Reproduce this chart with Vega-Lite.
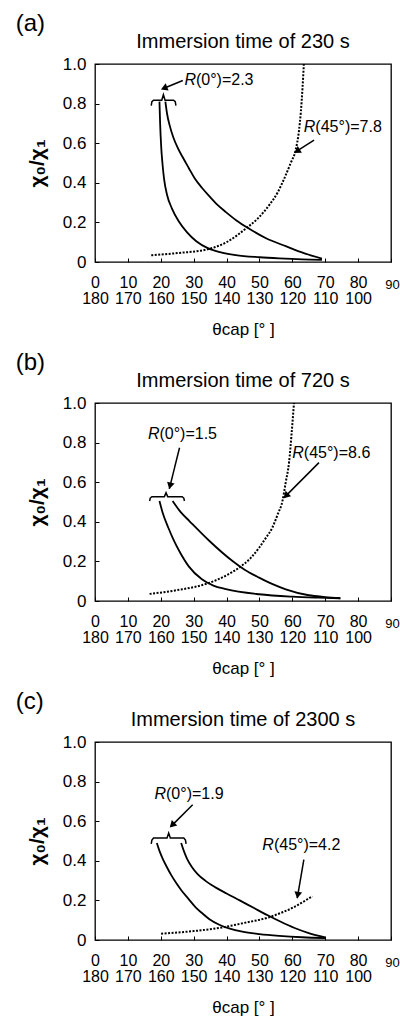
{
  "$schema": "https://vega.github.io/schema/vega-lite/v6.json",
  "padding": {"left": 15, "top": 12, "right": 0, "bottom": 0},
  "spacing": 13,
  "config": {
    "font": "Liberation Sans",
    "view": {"stroke": "#000", "strokeWidth": 1.3},
    "axis": {"grid": false, "domain": false, "tickColor": "#000", "tickSize": -4, "tickWidth": 1, "labelColor": "#000", "titleColor": "#000", "labelFont": "Liberation Sans", "titleFont": "Liberation Sans"},
    "title": {"color": "#000", "font": "Liberation Sans", "fontWeight": "normal"},
    "text": {"font": "Liberation Sans"}
  },
  "datasets": {
    "curves": [
      {"p": "a", "c": "s1", "x": 19.6, "y": 0.81}, {"p": "a", "c": "s1", "x": 19.8, "y": 0.70}, {"p": "a", "c": "s1", "x": 20.1, "y": 0.59}, {"p": "a", "c": "s1", "x": 20.5, "y": 0.50}, {"p": "a", "c": "s1", "x": 21.0, "y": 0.42}, {"p": "a", "c": "s1", "x": 21.9, "y": 0.34}, {"p": "a", "c": "s1", "x": 23.4, "y": 0.27}, {"p": "a", "c": "s1", "x": 25.5, "y": 0.205}, {"p": "a", "c": "s1", "x": 28, "y": 0.15}, {"p": "a", "c": "s1", "x": 30.8, "y": 0.105}, {"p": "a", "c": "s1", "x": 34.3, "y": 0.07}, {"p": "a", "c": "s1", "x": 38, "y": 0.05}, {"p": "a", "c": "s1", "x": 42.8, "y": 0.035}, {"p": "a", "c": "s1", "x": 50, "y": 0.024}, {"p": "a", "c": "s1", "x": 56, "y": 0.018}, {"p": "a", "c": "s1", "x": 63, "y": 0.013}, {"p": "a", "c": "s1", "x": 69, "y": 0.011},
      {"p": "a", "c": "s2", "x": 21.4, "y": 0.81}, {"p": "a", "c": "s2", "x": 21.9, "y": 0.75}, {"p": "a", "c": "s2", "x": 22.7, "y": 0.69}, {"p": "a", "c": "s2", "x": 23.8, "y": 0.63}, {"p": "a", "c": "s2", "x": 25.2, "y": 0.575}, {"p": "a", "c": "s2", "x": 26.8, "y": 0.525}, {"p": "a", "c": "s2", "x": 28.5, "y": 0.475}, {"p": "a", "c": "s2", "x": 30.4, "y": 0.42}, {"p": "a", "c": "s2", "x": 32.5, "y": 0.375}, {"p": "a", "c": "s2", "x": 34.6, "y": 0.335}, {"p": "a", "c": "s2", "x": 37, "y": 0.292}, {"p": "a", "c": "s2", "x": 39.8, "y": 0.252}, {"p": "a", "c": "s2", "x": 43, "y": 0.21}, {"p": "a", "c": "s2", "x": 46.9, "y": 0.168}, {"p": "a", "c": "s2", "x": 52, "y": 0.12}, {"p": "a", "c": "s2", "x": 58, "y": 0.08}, {"p": "a", "c": "s2", "x": 63.5, "y": 0.045}, {"p": "a", "c": "s2", "x": 69, "y": 0.017},
      {"p": "a", "c": "d", "x": 17.1, "y": 0.034}, {"p": "a", "c": "d", "x": 25, "y": 0.045}, {"p": "a", "c": "d", "x": 34.2, "y": 0.064}, {"p": "a", "c": "d", "x": 40, "y": 0.10}, {"p": "a", "c": "d", "x": 45.8, "y": 0.168}, {"p": "a", "c": "d", "x": 49.5, "y": 0.22}, {"p": "a", "c": "d", "x": 52.9, "y": 0.286}, {"p": "a", "c": "d", "x": 55.5, "y": 0.35}, {"p": "a", "c": "d", "x": 57.5, "y": 0.42}, {"p": "a", "c": "d", "x": 59.5, "y": 0.50}, {"p": "a", "c": "d", "x": 61, "y": 0.565}, {"p": "a", "c": "d", "x": 62, "y": 0.66}, {"p": "a", "c": "d", "x": 62.6, "y": 0.76}, {"p": "a", "c": "d", "x": 63.1, "y": 0.88}, {"p": "a", "c": "d", "x": 63.5, "y": 1.0},
      {"p": "b", "c": "s1", "x": 19.6, "y": 0.505}, {"p": "b", "c": "s1", "x": 20.5, "y": 0.45}, {"p": "b", "c": "s1", "x": 22.3, "y": 0.37}, {"p": "b", "c": "s1", "x": 24.0, "y": 0.305}, {"p": "b", "c": "s1", "x": 25.7, "y": 0.25}, {"p": "b", "c": "s1", "x": 28.5, "y": 0.175}, {"p": "b", "c": "s1", "x": 32.5, "y": 0.11}, {"p": "b", "c": "s1", "x": 36, "y": 0.078}, {"p": "b", "c": "s1", "x": 39.8, "y": 0.06}, {"p": "b", "c": "s1", "x": 49.9, "y": 0.034}, {"p": "b", "c": "s1", "x": 60, "y": 0.022}, {"p": "b", "c": "s1", "x": 68, "y": 0.017}, {"p": "b", "c": "s1", "x": 74.6, "y": 0.014},
      {"p": "b", "c": "s2", "x": 23.6, "y": 0.505}, {"p": "b", "c": "s2", "x": 26, "y": 0.45}, {"p": "b", "c": "s2", "x": 28.7, "y": 0.404}, {"p": "b", "c": "s2", "x": 34.8, "y": 0.303}, {"p": "b", "c": "s2", "x": 41.8, "y": 0.202}, {"p": "b", "c": "s2", "x": 45.5, "y": 0.158}, {"p": "b", "c": "s2", "x": 49.9, "y": 0.118}, {"p": "b", "c": "s2", "x": 54, "y": 0.085}, {"p": "b", "c": "s2", "x": 58, "y": 0.059}, {"p": "b", "c": "s2", "x": 65, "y": 0.029}, {"p": "b", "c": "s2", "x": 70, "y": 0.02}, {"p": "b", "c": "s2", "x": 74.6, "y": 0.014},
      {"p": "b", "c": "d", "x": 16.6, "y": 0.036}, {"p": "b", "c": "d", "x": 25, "y": 0.055}, {"p": "b", "c": "d", "x": 34.8, "y": 0.092}, {"p": "b", "c": "d", "x": 40, "y": 0.13}, {"p": "b", "c": "d", "x": 43.8, "y": 0.168}, {"p": "b", "c": "d", "x": 47.5, "y": 0.22}, {"p": "b", "c": "d", "x": 49.9, "y": 0.269}, {"p": "b", "c": "d", "x": 52, "y": 0.32}, {"p": "b", "c": "d", "x": 53.9, "y": 0.37}, {"p": "b", "c": "d", "x": 55.6, "y": 0.44}, {"p": "b", "c": "d", "x": 57, "y": 0.505}, {"p": "b", "c": "d", "x": 58, "y": 0.60}, {"p": "b", "c": "d", "x": 59, "y": 0.70}, {"p": "b", "c": "d", "x": 59.8, "y": 0.85}, {"p": "b", "c": "d", "x": 60.5, "y": 1.0},
      {"p": "c", "c": "s1", "x": 18.8, "y": 0.49}, {"p": "c", "c": "s1", "x": 19.6, "y": 0.45}, {"p": "c", "c": "s1", "x": 20.6, "y": 0.41}, {"p": "c", "c": "s1", "x": 21.8, "y": 0.37}, {"p": "c", "c": "s1", "x": 23.1, "y": 0.33}, {"p": "c", "c": "s1", "x": 24.6, "y": 0.29}, {"p": "c", "c": "s1", "x": 26.3, "y": 0.25}, {"p": "c", "c": "s1", "x": 28.3, "y": 0.21}, {"p": "c", "c": "s1", "x": 30.6, "y": 0.165}, {"p": "c", "c": "s1", "x": 32.6, "y": 0.135}, {"p": "c", "c": "s1", "x": 34.8, "y": 0.105}, {"p": "c", "c": "s1", "x": 37.8, "y": 0.077}, {"p": "c", "c": "s1", "x": 41, "y": 0.057}, {"p": "c", "c": "s1", "x": 44.8, "y": 0.042}, {"p": "c", "c": "s1", "x": 50, "y": 0.03}, {"p": "c", "c": "s1", "x": 56, "y": 0.021}, {"p": "c", "c": "s1", "x": 63, "y": 0.014}, {"p": "c", "c": "s1", "x": 70, "y": 0.01},
      {"p": "c", "c": "s2", "x": 26.2, "y": 0.49}, {"p": "c", "c": "s2", "x": 27.0, "y": 0.45}, {"p": "c", "c": "s2", "x": 28.0, "y": 0.41}, {"p": "c", "c": "s2", "x": 29.4, "y": 0.37}, {"p": "c", "c": "s2", "x": 31.2, "y": 0.333}, {"p": "c", "c": "s2", "x": 33.5, "y": 0.30}, {"p": "c", "c": "s2", "x": 36.5, "y": 0.267}, {"p": "c", "c": "s2", "x": 40, "y": 0.235}, {"p": "c", "c": "s2", "x": 44, "y": 0.2}, {"p": "c", "c": "s2", "x": 48.5, "y": 0.16}, {"p": "c", "c": "s2", "x": 52.5, "y": 0.125}, {"p": "c", "c": "s2", "x": 56.5, "y": 0.092}, {"p": "c", "c": "s2", "x": 60.5, "y": 0.062}, {"p": "c", "c": "s2", "x": 65, "y": 0.035}, {"p": "c", "c": "s2", "x": 70, "y": 0.013},
      {"p": "c", "c": "d", "x": 20.1, "y": 0.032}, {"p": "c", "c": "d", "x": 30, "y": 0.045}, {"p": "c", "c": "d", "x": 37.8, "y": 0.061}, {"p": "c", "c": "d", "x": 45, "y": 0.085}, {"p": "c", "c": "d", "x": 52.9, "y": 0.115}, {"p": "c", "c": "d", "x": 57, "y": 0.14}, {"p": "c", "c": "d", "x": 60, "y": 0.162}, {"p": "c", "c": "d", "x": 63, "y": 0.19}, {"p": "c", "c": "d", "x": 66.1, "y": 0.221}
    ],
    "brackets": [
      {"p": "a", "x": 17.1, "y": 0.79}, {"p": "a", "x": 17.3, "y": 0.81}, {"p": "a", "x": 17.8, "y": 0.817}, {"p": "a", "x": 20.3, "y": 0.817}, {"p": "a", "x": 20.8, "y": 0.845}, {"p": "a", "x": 21.3, "y": 0.817}, {"p": "a", "x": 23.9, "y": 0.817}, {"p": "a", "x": 24.4, "y": 0.81}, {"p": "a", "x": 24.6, "y": 0.79},
      {"p": "b", "x": 16.6, "y": 0.505}, {"p": "b", "x": 16.8, "y": 0.52}, {"p": "b", "x": 17.3, "y": 0.527}, {"p": "b", "x": 21.1, "y": 0.527}, {"p": "b", "x": 21.6, "y": 0.547}, {"p": "b", "x": 22.1, "y": 0.527}, {"p": "b", "x": 26.5, "y": 0.527}, {"p": "b", "x": 27.0, "y": 0.52}, {"p": "b", "x": 27.2, "y": 0.505},
      {"p": "c", "x": 17.1, "y": 0.485}, {"p": "c", "x": 17.3, "y": 0.505}, {"p": "c", "x": 17.8, "y": 0.515}, {"p": "c", "x": 21.9, "y": 0.515}, {"p": "c", "x": 22.4, "y": 0.54}, {"p": "c", "x": 22.9, "y": 0.515}, {"p": "c", "x": 27.0, "y": 0.515}, {"p": "c", "x": 27.5, "y": 0.505}, {"p": "c", "x": 27.7, "y": 0.485}
    ],
    "arrows": [
      {"p": "a", "x": 26.7, "y": 0.917, "x2": 20.6, "y2": 0.875},
      {"p": "a", "x": 66.6, "y": 0.615, "x2": 61, "y2": 0.556},
      {"p": "b", "x": 25.7, "y": 0.774, "x2": 22.6, "y2": 0.566},
      {"p": "b", "x": 68.1, "y": 0.699, "x2": 57.5, "y2": 0.522},
      {"p": "c", "x": 29.7, "y": 0.683, "x2": 23.1, "y2": 0.574},
      {"p": "c", "x": 63.5, "y": 0.406, "x2": 61.5, "y2": 0.212}
    ],
    "heads": [
      {"p": "a", "x": 21.3, "y": 0.880, "ang": 248},
      {"p": "a", "x": 61.7, "y": 0.563, "ang": 238},
      {"p": "b", "x": 22.9, "y": 0.587, "ang": 194},
      {"p": "b", "x": 58.3, "y": 0.535, "ang": 225},
      {"p": "c", "x": 23.7, "y": 0.584, "ang": 225},
      {"p": "c", "x": 61.7, "y": 0.232, "ang": 190}
    ],
    "notes": [
      {"p": "a", "x": 30.7, "y": 0.917, "rest": "(0°)=2.3"},
      {"p": "a", "x": 67, "y": 0.682, "rest": "(45°)=7.8"},
      {"p": "b", "x": 19.6, "y": 0.845, "rest": "(0°)=1.5"},
      {"p": "b", "x": 63.5, "y": 0.749, "rest": "(45°)=8.6"},
      {"p": "c", "x": 21.6, "y": 0.737, "rest": "(0°)=1.9"},
      {"p": "c", "x": 54.4, "y": 0.478, "rest": "(45°)=4.2"}
    ]
  },
  "vconcat": [
    {
      "title": {"text": "(a)", "anchor": "start", "fontSize": 24, "dx": -10, "offset": -5, "frame": "bounds"},
      "vconcat": [{
        "title": {"text": "Immersion time of 230 s", "fontSize": 20, "offset": 3, "anchor": "middle"},
        "width": 296, "height": 198,
        "encoding": {
          "x": {"field": "x", "type": "quantitative", "scale": {"domain": [0, 90], "nice": false},
            "axis": {"title": "θcap [° ]", "values": [0, 10, 20, 30, 40, 50, 60, 70, 80, 90], "labelExpr": "datum.value == 90 ? '90' : [datum.label, '' + (180 - datum.value)]", "labelFontSize": {"condition": {"test": "datum.value == 90", "value": 13}, "value": 16}, "labelPadding": {"condition": {"test": "datum.value == 90", "value": 20}, "value": 16}, "labelOffset": {"condition": {"test": "datum.value == 90", "value": 1}, "value": 0}, "labelLineHeight": 16, "labelFlush": false, "labelOverlap": false, "titleFontSize": 17, "titleFontWeight": "normal", "titlePadding": 15}},
          "y": {"field": "y", "type": "quantitative", "scale": {"domain": [0, 1], "nice": false},
            "axis": {"title": "χ₀/χ₁", "values": [0, 0.2, 0.4, 0.6, 0.8, 1.0], "labelExpr": "datum.value == 0 ? '0' : format(datum.value, '.1f')", "labelFontSize": 17, "labelPadding": 13, "labelFlush": false, "titleFontSize": 21, "titleFontWeight": "bold", "titlePadding": 15}}
        },
        "layer": [
          {"data": {"name": "curves"}, "transform": [{"filter": "datum.p == 'a' && datum.c != 'd'"}], "mark": {"type": "line", "color": "#000", "strokeWidth": 1.8, "interpolate": "monotone"}, "encoding": {"detail": {"field": "c"}}},
          {"data": {"name": "curves"}, "transform": [{"filter": "datum.p == 'a' && datum.c == 'd'"}], "mark": {"type": "line", "color": "#000", "strokeWidth": 2, "strokeDash": [2, 1.5], "interpolate": "monotone"}},
          {"data": {"name": "brackets"}, "transform": [{"filter": "datum.p == 'a'"}], "mark": {"type": "line", "color": "#000", "strokeWidth": 1.5}},
          {"data": {"name": "arrows"}, "transform": [{"filter": "datum.p == 'a'"}], "mark": {"type": "rule", "color": "#000", "strokeWidth": 1.5}, "encoding": {"x2": {"field": "x2"}, "y2": {"field": "y2"}}},
          {"data": {"name": "heads"}, "transform": [{"filter": "datum.p == 'a'"}], "mark": {"type": "point", "shape": "triangle", "filled": true, "color": "#000", "size": 60, "opacity": 1}, "encoding": {"angle": {"field": "ang", "type": "quantitative", "scale": null}}},
          {"data": {"name": "notes"}, "transform": [{"filter": "datum.p == 'a'"}], "mark": {"type": "text", "text": "R", "fontStyle": "italic", "align": "right", "baseline": "middle", "fontSize": 16, "color": "#000"}},
          {"data": {"name": "notes"}, "transform": [{"filter": "datum.p == 'a'"}], "mark": {"type": "text", "align": "left", "baseline": "middle", "fontSize": 16, "color": "#000"}, "encoding": {"text": {"field": "rest"}}}
        ]
      }]
    },
    {
      "title": {"text": "(b)", "anchor": "start", "fontSize": 24, "dx": -10, "offset": -5, "frame": "bounds"},
      "vconcat": [{
        "title": {"text": "Immersion time of 720 s", "fontSize": 20, "offset": 3, "anchor": "middle"},
        "width": 296, "height": 198,
        "encoding": {
          "x": {"field": "x", "type": "quantitative", "scale": {"domain": [0, 90], "nice": false},
            "axis": {"title": "θcap [° ]", "values": [0, 10, 20, 30, 40, 50, 60, 70, 80, 90], "labelExpr": "datum.value == 90 ? '90' : [datum.label, '' + (180 - datum.value)]", "labelFontSize": {"condition": {"test": "datum.value == 90", "value": 13}, "value": 16}, "labelPadding": {"condition": {"test": "datum.value == 90", "value": 20}, "value": 16}, "labelOffset": {"condition": {"test": "datum.value == 90", "value": 1}, "value": 0}, "labelLineHeight": 16, "labelFlush": false, "labelOverlap": false, "titleFontSize": 17, "titleFontWeight": "normal", "titlePadding": 15}},
          "y": {"field": "y", "type": "quantitative", "scale": {"domain": [0, 1], "nice": false},
            "axis": {"title": "χ₀/χ₁", "values": [0, 0.2, 0.4, 0.6, 0.8, 1.0], "labelExpr": "datum.value == 0 ? '0' : format(datum.value, '.1f')", "labelFontSize": 17, "labelPadding": 13, "labelFlush": false, "titleFontSize": 21, "titleFontWeight": "bold", "titlePadding": 15}}
        },
        "layer": [
          {"data": {"name": "curves"}, "transform": [{"filter": "datum.p == 'b' && datum.c != 'd'"}], "mark": {"type": "line", "color": "#000", "strokeWidth": 1.8, "interpolate": "monotone"}, "encoding": {"detail": {"field": "c"}}},
          {"data": {"name": "curves"}, "transform": [{"filter": "datum.p == 'b' && datum.c == 'd'"}], "mark": {"type": "line", "color": "#000", "strokeWidth": 2, "strokeDash": [2, 1.5], "interpolate": "monotone"}},
          {"data": {"name": "brackets"}, "transform": [{"filter": "datum.p == 'b'"}], "mark": {"type": "line", "color": "#000", "strokeWidth": 1.5}},
          {"data": {"name": "arrows"}, "transform": [{"filter": "datum.p == 'b'"}], "mark": {"type": "rule", "color": "#000", "strokeWidth": 1.5}, "encoding": {"x2": {"field": "x2"}, "y2": {"field": "y2"}}},
          {"data": {"name": "heads"}, "transform": [{"filter": "datum.p == 'b'"}], "mark": {"type": "point", "shape": "triangle", "filled": true, "color": "#000", "size": 60, "opacity": 1}, "encoding": {"angle": {"field": "ang", "type": "quantitative", "scale": null}}},
          {"data": {"name": "notes"}, "transform": [{"filter": "datum.p == 'b'"}], "mark": {"type": "text", "text": "R", "fontStyle": "italic", "align": "right", "baseline": "middle", "fontSize": 16, "color": "#000"}},
          {"data": {"name": "notes"}, "transform": [{"filter": "datum.p == 'b'"}], "mark": {"type": "text", "align": "left", "baseline": "middle", "fontSize": 16, "color": "#000"}, "encoding": {"text": {"field": "rest"}}}
        ]
      }]
    },
    {
      "title": {"text": "(c)", "anchor": "start", "fontSize": 24, "dx": -10, "offset": -5, "frame": "bounds"},
      "vconcat": [{
        "title": {"text": "Immersion time of 2300 s", "fontSize": 20, "offset": 3, "anchor": "middle"},
        "width": 296, "height": 198,
        "encoding": {
          "x": {"field": "x", "type": "quantitative", "scale": {"domain": [0, 90], "nice": false},
            "axis": {"title": "θcap [° ]", "values": [0, 10, 20, 30, 40, 50, 60, 70, 80, 90], "labelExpr": "datum.value == 90 ? '90' : [datum.label, '' + (180 - datum.value)]", "labelFontSize": {"condition": {"test": "datum.value == 90", "value": 13}, "value": 16}, "labelPadding": {"condition": {"test": "datum.value == 90", "value": 20}, "value": 16}, "labelOffset": {"condition": {"test": "datum.value == 90", "value": 1}, "value": 0}, "labelLineHeight": 16, "labelFlush": false, "labelOverlap": false, "titleFontSize": 17, "titleFontWeight": "normal", "titlePadding": 15}},
          "y": {"field": "y", "type": "quantitative", "scale": {"domain": [0, 1], "nice": false},
            "axis": {"title": "χ₀/χ₁", "values": [0, 0.2, 0.4, 0.6, 0.8, 1.0], "labelExpr": "datum.value == 0 ? '0' : format(datum.value, '.1f')", "labelFontSize": 17, "labelPadding": 13, "labelFlush": false, "titleFontSize": 21, "titleFontWeight": "bold", "titlePadding": 15}}
        },
        "layer": [
          {"data": {"name": "curves"}, "transform": [{"filter": "datum.p == 'c' && datum.c != 'd'"}], "mark": {"type": "line", "color": "#000", "strokeWidth": 1.8, "interpolate": "monotone"}, "encoding": {"detail": {"field": "c"}}},
          {"data": {"name": "curves"}, "transform": [{"filter": "datum.p == 'c' && datum.c == 'd'"}], "mark": {"type": "line", "color": "#000", "strokeWidth": 2, "strokeDash": [2, 1.5], "interpolate": "monotone"}},
          {"data": {"name": "brackets"}, "transform": [{"filter": "datum.p == 'c'"}], "mark": {"type": "line", "color": "#000", "strokeWidth": 1.5}},
          {"data": {"name": "arrows"}, "transform": [{"filter": "datum.p == 'c'"}], "mark": {"type": "rule", "color": "#000", "strokeWidth": 1.5}, "encoding": {"x2": {"field": "x2"}, "y2": {"field": "y2"}}},
          {"data": {"name": "heads"}, "transform": [{"filter": "datum.p == 'c'"}], "mark": {"type": "point", "shape": "triangle", "filled": true, "color": "#000", "size": 60, "opacity": 1}, "encoding": {"angle": {"field": "ang", "type": "quantitative", "scale": null}}},
          {"data": {"name": "notes"}, "transform": [{"filter": "datum.p == 'c'"}], "mark": {"type": "text", "text": "R", "fontStyle": "italic", "align": "right", "baseline": "middle", "fontSize": 16, "color": "#000"}},
          {"data": {"name": "notes"}, "transform": [{"filter": "datum.p == 'c'"}], "mark": {"type": "text", "align": "left", "baseline": "middle", "fontSize": 16, "color": "#000"}, "encoding": {"text": {"field": "rest"}}}
        ]
      }]
    }
  ]
}
